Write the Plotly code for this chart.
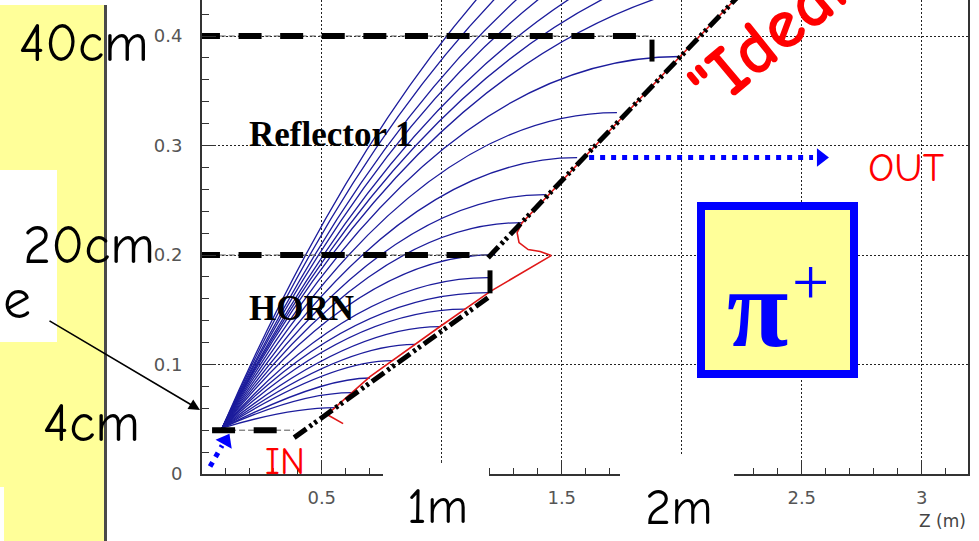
import plotly.graph_objects as go

# ---------------- data (metres) ----------------
# focusing point of the trajectories
APEX_Z, APEX_Y = 0.085, 0.042

# trajectory end points (where they become parallel) and Bezier control points
traj_end_z = [3.243, 3.118, 2.993, 2.868, 2.743, 2.681, 2.618, 1.993, 1.730, 1.564, 1.430,
              1.335, 1.222, 1.193, 1.193, 1.097, 0.993, 0.889, 0.793, 0.701, 0.626, 0.555]
traj_end_y = [0.6706, 0.6296, 0.5882, 0.5521, 0.5155, 0.4881, 0.4607, 0.3813, 0.3301, 0.2889,
              0.2552, 0.2296, 0.2004, 0.1793, 0.1657, 0.1506, 0.1346, 0.1184, 0.1035, 0.0877,
              0.0744, 0.0606]
traj_ctrl_z = [1.330, 1.301, 1.272, 1.230, 1.193, 1.155, 1.118, 0.968, 0.880, 0.810, 0.755,
               0.718, 0.660, 0.640, 0.626, 0.618, 0.610, 0.576, 0.535, 0.493, 0.410, 0.368]

# simulated horn surface (red)
red_z = [0.589, 0.522, 0.701, 0.856, 0.993, 1.201, 1.456, 1.410, 1.360, 1.322,
         1.314, 1.335, 1.660, 1.993, 2.326]
red_y = [0.0460, 0.0543, 0.0890, 0.1137, 0.1347, 0.1666, 0.1995, 0.2032, 0.2050,
         0.2113, 0.2205, 0.2296, 0.3045, 0.3813, 0.4570]

# "ideal" horn (black dash-dot)
ideal1_z = [0.385, 1.193]
ideal1_y = [0.0332, 0.1611]
ideal2_z = [1.193, 2.326]
ideal2_y = [0.1976, 0.4570]
step1_z = [1.201, 1.201]
step1_y = [0.165, 0.186]
step2_z = [1.876, 1.876]
step2_y = [0.3767, 0.3967]

# radius levels (black dashed)
lvl40_z = [-0.02, 1.82]
lvl40_y = [0.40, 0.40]
lvl40_thin_z = [0.0, 1.876]
lvl20_z = [-0.02, 1.12]
lvl20_y = [0.20, 0.20]
lvl20_thin_z = [0.0, 1.193]
lvl4_z = [0.043, 0.315]
lvl4_y = [0.04, 0.04]
lvl4_thin_z = [0.043, 0.385]

# arrows (decorations)
out_arrow_z = [1.614, 2.547]
out_arrow_y = [0.289, 0.289]
out_head_z, out_head_y = 2.580, 0.289
in_arrow_z = [0.0346, 0.0846]
in_arrow_y = [0.0068, 0.026]
in_head_z, in_head_y = 0.0992, 0.0304

x_tickvals = [0, 0.5, 1, 1.5, 2, 2.5, 3]
x_ticktext = ["0", "0.5", "", "1.5", "", "2.5", "3"]
y_tickvals = [0, 0.1, 0.2, 0.3, 0.4]
y_ticktext = ["0", "0.1", "0.2", "0.3", "0.4"]

# ---------------- figure ----------------
W, H = 979, 541
ML, MR, MT, MB = 202, 11, 0, 67
PW, PH = W - ML - MR, H - MT - MB


def PX(x):
    return (x - ML) / PW


def PY(y):
    return (H - MB - y) / PH


COMIC = "Comic Sans MS, Comic Neue, DejaVu Sans"
SERIF = "Liberation Serif, Times New Roman, serif"
SANS = "DejaVu Sans, Arial, sans-serif"
BLUE_TRAJ = "#1c1c9c"
YELLOW = "#FFFF99"

fig = go.Figure()

# thin dashed guide lines under the thick dashes
for zz, yy in [(lvl40_thin_z, lvl40_y), (lvl20_thin_z, lvl20_y), (lvl4_thin_z, lvl4_y)]:
    fig.add_trace(go.Scatter(x=zz, y=yy, mode="lines",
                             line=dict(color="#555", width=1, dash="6px,3px"),
                             hoverinfo="skip"))

# red simulated surface
fig.add_trace(go.Scatter(x=red_z, y=red_y, mode="lines",
                         line=dict(color="#e01818", width=1.6), hoverinfo="skip"))

# ideal horn
dashdot = "15px,4px,3px,3px,3px,4px"
for zz, yy in [(ideal1_z, ideal1_y), (ideal2_z, ideal2_y)]:
    fig.add_trace(go.Scatter(x=zz, y=yy, mode="lines",
                             line=dict(color="black", width=5, dash=dashdot),
                             hoverinfo="skip"))
for zz, yy in [(step1_z, step1_y), (step2_z, step2_y)]:
    fig.add_trace(go.Scatter(x=zz, y=yy, mode="lines",
                             line=dict(color="black", width=5), hoverinfo="skip"))

# thick dashed radius levels
for zz, yy in [(lvl40_z, lvl40_y), (lvl20_z, lvl20_y), (lvl4_z, lvl4_y)]:
    fig.add_trace(go.Scatter(x=zz, y=yy, mode="lines",
                             line=dict(color="black", width=6, dash="23px,18.6px"),
                             hoverinfo="skip"))

# blue dotted arrows
fig.add_trace(go.Scatter(x=out_arrow_z, y=out_arrow_y, mode="lines",
                         line=dict(color="#0000FF", width=5, dash="5px,6px"),
                         hoverinfo="skip"))
fig.add_trace(go.Scatter(x=[out_head_z], y=[out_head_y], mode="markers",
                         marker=dict(symbol="triangle-right", size=16, color="#0000FF"),
                         cliponaxis=False, hoverinfo="skip"))
fig.add_trace(go.Scatter(x=in_arrow_z, y=in_arrow_y, mode="lines",
                         line=dict(color="#0000FF", width=5, dash="5px,6px"),
                         hoverinfo="skip"))
fig.add_trace(go.Scatter(x=[in_head_z], y=[in_head_y], mode="markers",
                         marker=dict(symbol="triangle-up", size=16, color="#0000FF", angle=29),
                         cliponaxis=False, hoverinfo="skip"))

shapes = []
# trajectories as quadratic Bezier curves
for ez, ey, cz in zip(traj_end_z, traj_end_y, traj_ctrl_z):
    shapes.append(dict(type="path", xref="x", yref="y", layer="between",
                       path=f"M {APEX_Z},{APEX_Y} Q {cz},{ey} {ez},{ey}",
                       line=dict(color=BLUE_TRAJ, width=1.3)))

# left yellow panel and decorations (paper coordinates)
shapes += [
    dict(type="rect", xref="paper", yref="paper", layer="above",
         x0=PX(0), x1=PX(104), y0=PY(541), y1=PY(5), fillcolor=YELLOW, line=dict(width=0)),
    dict(type="rect", xref="paper", yref="paper", layer="above",
         x0=PX(0), x1=PX(57), y0=PY(342), y1=PY(170), fillcolor="white", line=dict(width=0)),
    dict(type="rect", xref="paper", yref="paper", layer="above",
         x0=PX(0), x1=PX(4), y0=PY(541), y1=PY(487), fillcolor="white", line=dict(width=0)),
    dict(type="line", xref="paper", yref="paper", layer="above",
         x0=PX(105.5), x1=PX(105.5), y0=PY(541), y1=PY(5), line=dict(color="#4a4a4a", width=3)),
    dict(type="rect", xref="paper", yref="paper", layer="above",
         x0=PX(383), x1=PX(489), y0=PY(541), y1=PY(463), fillcolor="white", line=dict(width=0)),
    dict(type="rect", xref="paper", yref="paper", layer="above",
         x0=PX(620), x1=PX(734), y0=PY(541), y1=PY(455), fillcolor="white", line=dict(width=0)),
    dict(type="rect", xref="paper", yref="paper", layer="above",
         x0=PX(701), x1=PX(854), y0=PY(374), y1=PY(206), fillcolor=YELLOW,
         line=dict(color="#0000FF", width=8)),
]

ann = []


def txt(x, y, s, size, color="black", family=COMIC, xanchor="center", angle=0, bold=False):
    ann.append(dict(x=PX(x), y=PY(y), xref="paper", yref="paper", text=(f"<b>{s}</b>" if bold else s),
                    showarrow=False, xanchor=xanchor, yanchor="middle", textangle=angle,
                    font=dict(size=size, color=color, family=family)))


txt(84, 44, "40cm", 54)
txt(89, 245, "20cm", 54)
txt(91, 423, "4cm", 54)
txt(17, 300, "e", 56)
txt(437, 507, "1m", 50)
txt(679, 508, "2m", 50)
txt(285, 462, "IN", 38, color="#FF0000")
txt(906, 167, "OUT", 41, color="#FF0000")
txt(331, 135, "Reflector 1", 35, family=SERIF, bold=True)
txt(301, 309, "HORN", 35, family=SERIF, bold=True)
txt(757, 308, "π", 112, color="#0000FF", family=SERIF, bold=True)
txt(810, 281, "+", 66, color="#0000FF", family=SERIF)
txt(776, 30, "\"Ideal\"", 72, color="#FF0000", angle=-40, bold=True)
txt(968, 521, "Z (m)", 17, color="#444", family=SANS, xanchor="right")

# arrow from the left label to the target
ann.append(dict(x=PX(200), y=PY(410), xref="paper", yref="paper", text="", showarrow=True,
                ax=-152, ay=-90, arrowhead=2, arrowsize=1.4, arrowwidth=1.6, arrowcolor="black"))

axis_common = dict(showline=True, linecolor="#333", linewidth=2, ticks="inside",
                   tickcolor="#333", ticklen=14, tickwidth=1.2, showgrid=True,
                   gridcolor="#222", griddash="2px,2px", gridwidth=1, zeroline=False,
                   tickfont=dict(family=SANS, size=18, color="#555"))

fig.update_layout(
    width=W, height=H, autosize=False,
    margin=dict(l=ML, r=MR, t=MT, b=MB),
    paper_bgcolor="white", plot_bgcolor="white",
    showlegend=False, hovermode=False,
    shapes=shapes, annotations=ann,
    xaxis=dict(range=[0.001, 0.001 + PW / 240.0], tickmode="array", tickvals=x_tickvals,
               ticktext=x_ticktext, ticklabelstandoff=6,
               minor=dict(tickmode="linear", tick0=0, dtick=0.1, ticks="inside",
                          ticklen=6, tickcolor="#333", showgrid=False),
               **axis_common),
    yaxis=dict(range=[0, PH / 1094.9], tickmode="array", tickvals=y_tickvals,
               ticktext=y_ticktext, ticklabelstandoff=14, mirror=True,
               minor=dict(tickmode="linear", tick0=0, dtick=0.02, ticks="inside",
                          ticklen=7, tickcolor="#333", showgrid=False),
               **axis_common),
)

fig.write_html("out.html", config={"displayModeBar": False},
               post_script="document.body.style.margin='0px';document.body.style.overflow='hidden';")
